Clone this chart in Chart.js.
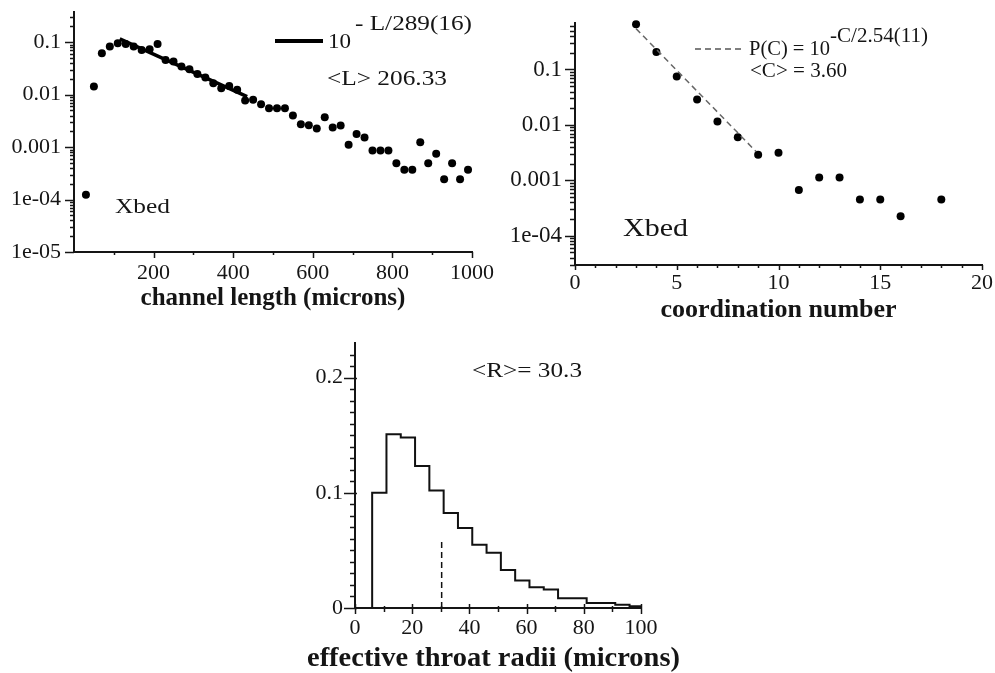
<!DOCTYPE html>
<html><head><meta charset="utf-8">
<script src="https://cdn.jsdelivr.net/npm/chart.js@4/dist/chart.umd.min.js"></script>
<style>
html,body{margin:0;padding:0;background:#fff;width:995px;height:673px;overflow:hidden}
canvas{position:absolute}
</style></head><body>
<canvas id="c1" width="500" height="330" style="left:0;top:0"></canvas>
<canvas id="c2" width="495" height="330" style="left:500px;top:0"></canvas>
<canvas id="c3" width="500" height="353" style="left:250px;top:320px"></canvas>
<script>
// ---------- data: channel length distribution ----------
const lengthX = [30,50,70,90,110,130,150,170,190,210,230,250,270,290,310,330,350,370,390,410,430,450,470,490,510,530,550,570,590,610,630,650,670,690,710,730,750,770,790,810,830,850,870,890,910,930,950,970,990];
const lengthP = [0.000124,0.0143,0.0617,0.0826,0.0957,0.0929,0.0826,0.0714,0.0736,0.0929,0.0460,0.0429,0.0344,0.0306,0.0249,0.0212,0.0166,0.0133,0.0147,0.0124,0.00774,0.00798,0.00659,0.00553,0.00553,0.00553,0.00401,0.00274,0.00262,0.00227,0.00372,0.00237,0.00259,0.00111,0.00177,0.00153,0.000865,0.000865,0.000865,0.000495,0.000370,0.000370,0.00124,0.000495,0.000746,0.000245,0.000495,0.000245,0.000370];
const lengthFitX = [115, 435];
const lengthFitP = [0.116, 0.0092];
const lengthXTicks = [200,400,600,800,1000];
const lengthXMinor = [100,300,500,700,900];
const lengthYTicks = [1e-5,1e-4,0.001,0.01,0.1];
const lengthYLabels = ['1e-05','1e-04','0.001','0.01','0.1'];

// ---------- data: coordination number distribution ----------
const coordC = [3,4,5,6,7,8,9,10,11,12,13,14,15,16,18];
const coordP = [0.652,0.207,0.0749,0.0289,0.0115,0.0060,0.00289,0.00314,0.00067,0.00112,0.00112,0.00045,0.00045,0.000225,0.00045];
const coordFitC = [3, 8.9];
const coordFitP = [0.546, 0.0033];
const coordXTicks = [0,5,10,15,20];
const coordXMinor = [1,2,3,4,6,7,8,9,11,12,13,14,16,17,18,19];
const coordYTicks = [1e-4,0.001,0.01,0.1];
const coordYLabels = ['1e-04','0.001','0.01','0.1'];

// ---------- data: effective throat radii histogram ----------
const radiusEdges = [6,11,16,21,26,31,36,41,46,51,56,61,66,71,76,81,86,91,96,100];
const radiusFreq = [0.100,0.1507,0.148,0.1233,0.102,0.0825,0.0694,0.0548,0.048,0.0329,0.0239,0.0181,0.016,0.0085,0.0085,0.0044,0.0044,0.0029,0.0015];
const radiusMean = 30.3;
const radiusMeanTop = 0.059;
const radiusXTicks = [0,20,40,60,80,100];
const radiusXMinor = [10,30,50,70,90];
const radiusYTicks = [0,0.1,0.2];
const radiusYLabels = ['0','0.1','0.2'];
const radiusYMinor = [0.01,0.02,0.03,0.04,0.05,0.06,0.07,0.08,0.09,0.11,0.12,0.13,0.14,0.15,0.16,0.17,0.18,0.19,0.21,0.22];

function logMinor(lo, hi){ const out=[]; for(let e=-6;e<=0;e++){ for(let m=2;m<=9;m++){ const v=m*Math.pow(10,e); if(v>lo*1.0001&&v<hi) out.push(v);} } return out; }

const SERIF = '"Liberation Serif", "Times New Roman", serif';
const INK = '#151515';
const NONE = 'rgba(0,0,0,0)';

const tickMarks = {
  id:'tickmarks',
  afterDraw(chart, args, o){
    const ctx = chart.ctx, a = chart.chartArea;
    ctx.save(); ctx.strokeStyle = INK; ctx.lineWidth = 1.5;
    const xs = chart.scales.x, ys = chart.scales.y;
    const drawX = (vals, len) => vals.forEach(v => { const p = Math.round(xs.getPixelForValue(v))+0.5; ctx.beginPath(); ctx.moveTo(p, a.bottom - len[0]); ctx.lineTo(p, a.bottom + len[1]); ctx.stroke(); });
    const drawY = (vals, len) => vals.forEach(v => { const p = Math.round(ys.getPixelForValue(v))+0.5; ctx.beginPath(); ctx.moveTo(a.left + len[0], p); ctx.lineTo(a.left - len[1], p); ctx.stroke(); });
    drawX(o.xMajor, o.xMajLen); drawX(o.xMinor, o.xMinLen);
    drawY(o.yMajor, o.yMajLen); drawY(o.yMinor, o.yMinLen);
    ctx.restore();
  }
};

const annot = {
  id:'annot',
  afterDraw(chart, args, o){
    const ctx = chart.ctx;
    (o.lines||[]).forEach(l => { ctx.save(); ctx.strokeStyle=l.color; ctx.lineWidth=l.width; ctx.setLineDash(l.dash||[]); ctx.beginPath(); ctx.moveTo(l.x1,l.y); ctx.lineTo(l.x2,l.y); ctx.stroke(); ctx.restore(); });
    (o.texts||[]).forEach(t => {
      ctx.save();
      ctx.font = (t.bold ? 'bold ' : '') + t.size + 'px ' + SERIF;
      ctx.fillStyle = INK; ctx.textBaseline = 'alphabetic'; ctx.textAlign = 'left';
      const w = ctx.measureText(t.text).width;
      const sx = t.w ? t.w / w : 1;
      ctx.translate(t.x, t.y); ctx.scale(sx, 1);
      ctx.fillText(t.text, 0, 0);
      ctx.restore();
    });
  }
};

function xScale(min, max, ticks, h, title, tsize, tpad, lsize, loff){
  return {
    type:'linear', min, max, bounds:'data',
    afterBuildTicks: s => { s.ticks = ticks.map(v => ({value:v})); },
    afterFit: s => { s.height = h; },
    grid:{display:false, drawTicks:true, tickLength:loff, tickColor:NONE},
    border:{display:true, color:INK, width:2},
    ticks:{autoSkip:false, maxRotation:0, padding:0, color:INK, font:{family:SERIF, size:lsize, lineHeight:1}, callback:v => String(v)},
    title:{display:!!title, text:title||'', color:INK, font:{family:SERIF, size:tsize, weight:'bold', lineHeight:1.2}, padding:{top:0, bottom:tpad}}
  };
}
function yScale(type, min, max, ticks, labels, w, lsize, loff){
  return {
    type, min, max, bounds:'data',
    afterBuildTicks: s => { s.ticks = ticks.map(v => ({value:v})); },
    afterFit: s => { s.width = w; },
    grid:{display:false, drawTicks:true, tickLength:loff, tickColor:NONE},
    border:{display:true, color:INK, width:2},
    ticks:{autoSkip:false, padding:0, color:INK, font:{family:SERIF, size:lsize, lineHeight:1}, callback:(v,i) => labels[i]}
  };
}
const basePlugins = {legend:{display:false}, tooltip:{enabled:false}};

// ---------- chart 1 ----------
new Chart(document.getElementById('c1'), {
  type:'scatter',
  data:{datasets:[
    {data: lengthFitX.map((x,i)=>({x, y:lengthFitP[i]})), showLine:true, borderColor:'#000', borderWidth:3.5, pointRadius:0, clip:false},
    {data: lengthX.map((x,i)=>({x, y:lengthP[i]})), pointRadius:4, pointBackgroundColor:'#000', pointBorderWidth:0, showLine:false, clip:false}
  ]},
  options:{responsive:false, animation:false, devicePixelRatio:1,
    layout:{padding:{top:12, right:28, left:0, bottom:0}},
    scales:{
      x: xScale(0, 1000, lengthXTicks, 78, 'channel length (microns)', 25, 16, 22, 10),
      y: yScale('logarithmic', 1e-5, 0.377, lengthYTicks, lengthYLabels, 74, 22, 13)
    },
    plugins:Object.assign({}, basePlugins, {
      tickmarks:{xMajor:lengthXTicks, xMinor:lengthXMinor, xMajLen:[0,6], xMinLen:[0,3], yMajor:lengthYTicks, yMinor:logMinor(1e-5,0.377), yMajLen:[0,9], yMinLen:[0,4]},
      annot:{
        lines:[{x1:275, x2:323, y:41, width:4, color:'#000'}],
        texts:[
          {text:'10', x:328, y:48, size:21, w:23},
          {text:'- L/289(16)', x:355, y:30, size:21, w:117},
          {text:'<L> 206.33', x:327, y:85, size:22, w:120},
          {text:'Xbed', x:115, y:213, size:22, w:55}
        ]}
    })
  },
  plugins:[tickMarks, annot]
});

// ---------- chart 2 ----------
new Chart(document.getElementById('c2'), {
  type:'scatter',
  data:{datasets:[
    {data: coordFitC.map((x,i)=>({x, y:coordFitP[i]})), showLine:true, borderColor:'#666', borderWidth:1.5, borderDash:[6,4], pointRadius:0, clip:false},
    {data: coordC.map((x,i)=>({x, y:coordP[i]})), pointRadius:4, pointBackgroundColor:'#000', pointBorderWidth:0, showLine:false, clip:false}
  ]},
  options:{responsive:false, animation:false, devicePixelRatio:1,
    layout:{padding:{top:23, right:13, left:0, bottom:0}},
    scales:{
      x: xScale(0, 20, coordXTicks, 65, 'coordination number', 26, 4, 22, 7),
      y: yScale('logarithmic', 2.97e-5, 0.69, coordYTicks, coordYLabels, 75, 23, 13)
    },
    plugins:Object.assign({}, basePlugins, {
      tickmarks:{xMajor:coordXTicks, xMinor:coordXMinor, xMajLen:[0,5], xMinLen:[0,3], yMajor:coordYTicks, yMinor:logMinor(2.97e-5,0.69), yMajLen:[0,10], yMinLen:[0,5]},
      annot:{
        lines:[{x1:195, x2:245, y:49, width:1.5, color:'#555', dash:[6,4]}],
        texts:[
          {text:'P(C) = 10', x:249, y:55, size:20, w:81},
          {text:'-C/2.54(11)', x:330, y:42, size:20, w:98},
          {text:'<C> = 3.60', x:250, y:77, size:20, w:97},
          {text:'Xbed', x:123, y:236, size:26, w:65}
        ]}
    })
  },
  plugins:[tickMarks, annot]
});

// ---------- chart 3 ----------
const histPts = [{x:radiusEdges[0], y:0}];
radiusFreq.forEach((f,i) => histPts.push({x:radiusEdges[i], y:f}));
histPts.push({x:radiusEdges[radiusEdges.length-1], y:0});
new Chart(document.getElementById('c3'), {
  type:'line',
  data:{datasets:[
    {data: histPts, stepped:'before', borderColor:'#111', borderWidth:2, pointRadius:0, fill:false, clip:false},
    {data: [{x:radiusMean, y:0}, {x:radiusMean, y:radiusMeanTop}], borderColor:'#111', borderWidth:1.5, borderDash:[6,4], pointRadius:0, clip:false}
  ]},
  options:{responsive:false, animation:false, devicePixelRatio:1,
    layout:{padding:{top:23, right:109, left:0, bottom:0}},
    scales:{
      x: xScale(0, 100, radiusXTicks, 65, null, 28, 0, 22, 9),
      y: yScale('linear', 0, 0.23, radiusYTicks, radiusYLabels, 105, 22, 12)
    },
    plugins:Object.assign({}, basePlugins, {
      tickmarks:{xMajor:radiusXTicks, xMinor:radiusXMinor, xMajLen:[4,6], xMinLen:[2,4], yMajor:radiusYTicks, yMinor:radiusYMinor, yMajLen:[2,11], yMinLen:[1,5]},
      annot:{ texts:[
        {text:'<R>= 30.3', x:222, y:57, size:22, w:110},
        {text:'effective throat radii (microns)', x:57, y:346, size:28, bold:true, w:373}
      ] }
    })
  },
  plugins:[tickMarks, annot]
});
</script>
</body></html>
